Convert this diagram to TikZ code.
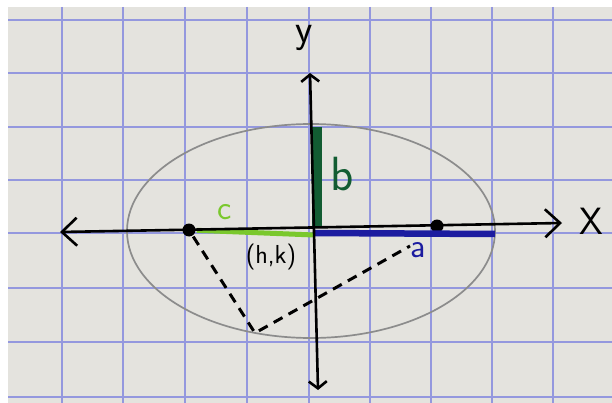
\documentclass[tikz,border=0pt]{standalone}
\usepackage{amsmath,amssymb}
\usepackage{tikz}
\usepackage{xcolor}
\usetikzlibrary{arrows.meta}
\definecolor{paper}{RGB}{228,227,222}
\definecolor{gridblue}{RGB}{148,152,222}
\definecolor{bgreen}{RGB}{18,92,50}
\definecolor{cgreen}{RGB}{122,200,45}
\definecolor{anavy}{RGB}{28,28,160}

\begin{document}
\begin{tikzpicture}[x=1pt, y=-1pt, line width=2.6pt,
  bigtip/.style={{Straight Barb[length=15pt,width=28pt]}-{Straight Barb[length=15pt,width=28pt]}},
  smalltip/.style={{Straight Barb[length=7pt,width=18pt]}-{Straight Barb[length=7pt,width=18pt]}},
  dot/.style={circle,fill=black,inner sep=0pt,minimum size=13pt},
  hand/.style={font=\sffamily\fontsize{#1}{#1}\selectfont}]
\useasboundingbox (0,0) rectangle (612,403);
\fill[white] (0,0) rectangle (612,403);
\fill[paper] (8,7) rectangle (612,403);
\foreach \gx in {62,123,185,247,309,370,431,492,553}
  \draw[gridblue,line width=1.2pt] (\gx,7) -- (\gx,403);
\foreach \gy in {20,73,127,180,233,288,342,397}
  \draw[gridblue,line width=1.2pt] (8,\gy) -- (612,\gy);

\draw[gray!90,line width=1.7pt] (311,231) ellipse [x radius=184pt, y radius=107pt];

\coordinate (ctr) at (314,228);
\coordinate (xl) at (60,232);
\coordinate (xr) at (562,223);
\coordinate (yt) at (310,73);
\coordinate (yb) at (318,390);
\coordinate (vr) at (495,230);
\coordinate (vt) at (317,127);
\coordinate (pe) at (255,333);
\coordinate (de) at (410,246);
\node[dot] (fl) at (189,230) {};
\node[dot] (fr) at (437,226) {};

\draw[anavy,line width=6.5pt] ([yshift=-5pt]ctr) -- ([yshift=-4pt]vr);
\draw[cgreen,line width=5pt] ([xshift=7pt,yshift=-7pt]fl) -- ([yshift=-7pt]ctr);
\draw[bgreen,line width=10pt] (vt) -- ([xshift=3pt]ctr);

\draw[bigtip] (xl) -- (xr);
\draw[smalltip] (yb) -- (yt);
\draw[dashed,line width=3pt,dash pattern=on 10pt off 7pt] (fl) -- (pe) -- (de);

\node[hand=40] (ly) at (304,38) {y};
\node[hand=38] (lx) at (591,221) {X};
\node[hand=48,bgreen] (lb) at (342,174) {b};
\node[hand=34,cgreen] (lc) at (225,212) {c};
\node[hand=34,anavy] (la) at (418,250) {a};
\node[hand=26] (lhk) at (271,257) {(h,k)};
\end{tikzpicture}
\end{document}
